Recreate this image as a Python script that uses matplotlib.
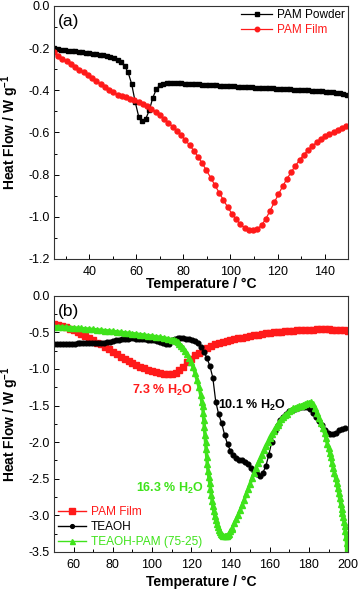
import numpy as np
import matplotlib
matplotlib.use("Agg")
import matplotlib.pyplot as plt
from matplotlib.ticker import MultipleLocator, FormatStrFormatter

plt.rcParams['font.family'] = ['Liberation Sans', 'DejaVu Sans']
plt.rcParams['mathtext.fontset'] = 'custom'
plt.rcParams['mathtext.rm'] = 'Liberation Sans'
plt.rcParams['mathtext.bf'] = 'Liberation Sans:bold'

RED = '#ff1a1a'
GREEN = '#3fe31b'

# ---- panel (a): PAM powder / PAM film, 25-150 C ----
powder_start, powder_step = 25, 1.5
powder_flow = [
    -0.200, -0.204, -0.207, -0.210, -0.212, -0.214, -0.216, -0.218, -0.220, -0.222,
    -0.224, -0.226, -0.228, -0.231, -0.234, -0.237, -0.241, -0.247, -0.256, -0.268,
    -0.285, -0.315, -0.370, -0.455, -0.525, -0.548, -0.535, -0.495, -0.435, -0.395,
    -0.375, -0.368, -0.366, -0.366, -0.366, -0.367, -0.367, -0.368, -0.369, -0.370,
    -0.371, -0.372, -0.373, -0.374, -0.375, -0.376, -0.377, -0.378, -0.379, -0.380,
    -0.381, -0.382, -0.383, -0.384, -0.385, -0.385, -0.386, -0.387, -0.388, -0.389,
    -0.389, -0.390, -0.391, -0.392, -0.393, -0.394, -0.395, -0.396, -0.397, -0.398,
    -0.399, -0.400, -0.401, -0.402, -0.403, -0.404, -0.405, -0.406, -0.408, -0.410,
    -0.412, -0.414, -0.417, -0.420,
]

film_start, film_step = 25, 1.8
film_flow = [
    -0.220, -0.236, -0.250, -0.262, -0.276, -0.290, -0.302, -0.315, -0.328, -0.342,
    -0.356, -0.370, -0.384, -0.398, -0.410, -0.420, -0.427, -0.433, -0.439, -0.446,
    -0.455, -0.465, -0.476, -0.488, -0.502, -0.518, -0.535, -0.553, -0.572, -0.592,
    -0.613, -0.636, -0.660, -0.686, -0.715, -0.746, -0.780, -0.815, -0.850, -0.886,
    -0.920, -0.954, -0.985, -1.012, -1.035, -1.052, -1.062, -1.064, -1.058, -1.040,
    -1.010, -0.972, -0.932, -0.893, -0.855, -0.820, -0.788, -0.758, -0.730, -0.705,
    -0.683, -0.664, -0.647, -0.632, -0.619, -0.607, -0.596, -0.586, -0.577, -0.568,
]

# ---- panel (b): PAM film / TEAOH / TEAOH-PAM, 50-200 C ----
film_b_start, film_b_step = 50, 2
film_b_flow = [
    -0.380, -0.395, -0.410, -0.430, -0.450, -0.470, -0.500, -0.525, -0.550, -0.580,
    -0.610, -0.640, -0.665, -0.695, -0.730, -0.765, -0.800, -0.835, -0.865, -0.895,
    -0.920, -0.945, -0.970, -0.990, -1.010, -1.030, -1.045, -1.060, -1.070, -1.075,
    -1.070, -1.055, -1.020, -0.970, -0.910, -0.860, -0.815, -0.775, -0.740, -0.710,
    -0.685, -0.665, -0.645, -0.630, -0.615, -0.600, -0.590, -0.580, -0.570, -0.560,
    -0.550, -0.540, -0.530, -0.520, -0.515, -0.510, -0.500, -0.495, -0.490, -0.485,
    -0.480, -0.475, -0.470, -0.468, -0.465, -0.463, -0.461, -0.460, -0.460, -0.460,
    -0.460, -0.462, -0.465, -0.468, -0.472, -0.475,
]

teaoh_start, teaoh_step = 50, 1.5
teaoh_flow = [
    -0.660, -0.660, -0.665, -0.665, -0.660, -0.660, -0.660, -0.655, -0.650, -0.648,
    -0.645, -0.645, -0.645, -0.645, -0.645, -0.645, -0.645, -0.640, -0.635, -0.625,
    -0.615, -0.605, -0.600, -0.595, -0.590, -0.585, -0.580, -0.580, -0.585, -0.590,
    -0.590, -0.595, -0.600, -0.605, -0.610, -0.620, -0.630, -0.645, -0.660, -0.665,
    -0.600, -0.585, -0.580, -0.580, -0.580, -0.585, -0.590, -0.600, -0.620, -0.650,
    -0.700, -0.770, -0.850, -0.960, -1.120, -1.450, -1.620, -1.740, -1.900, -2.030,
    -2.120, -2.180, -2.220, -2.240, -2.250, -2.270, -2.300, -2.350, -2.400, -2.440,
    -2.460, -2.420, -2.330, -2.180, -2.000, -1.850, -1.760, -1.700, -1.650, -1.610,
    -1.570, -1.555, -1.545, -1.535, -1.525, -1.520, -1.525, -1.550, -1.600, -1.650,
    -1.710, -1.770, -1.830, -1.870, -1.895, -1.890, -1.870, -1.840, -1.820, -1.810,
]

mix_temp = [
    50, 52, 54, 56, 58, 60, 62, 64, 66, 68, 70, 72, 74, 76, 78, 80, 82, 84, 86, 88,
    90, 92, 94, 96, 98, 100, 102, 104, 106, 108, 110, 111, 112, 113, 114, 115, 116,
    117, 118, 119, 120, 121, 122, 123, 124, 124.8, 125.4,
    125.8, 126.1, 126.4, 126.7, 127.0, 127.3, 127.6, 127.9, 128.2, 128.6, 129.0,
    129.4, 129.8, 130.2, 130.6, 131.0, 131.5, 132.0, 132.5, 133.0, 133.5, 134.0,
    134.6, 135.2, 135.8, 136.4, 137.0, 137.6, 138.2, 138.8, 139.4, 140.0, 140.6,
    141, 142, 143, 144, 145, 146, 147, 148, 149, 150, 151, 152, 153, 154, 155, 156,
    157, 158, 159, 160, 161, 162, 163, 164, 165, 166, 167, 168, 169, 170, 171, 172,
    173, 174, 175, 176, 177, 178, 179, 180, 181,
    182, 183, 184, 185, 186, 187, 188, 188.7, 189.4, 190.0, 190.6, 191.2, 191.8,
    192.4, 193.0, 193.6, 194.2, 194.7, 195.2, 195.7, 196.2, 196.7, 197.1, 197.5,
    197.9, 198.3, 198.6, 198.9, 199.2, 199.2,
]
mix_flow = [
    -0.420, -0.423, -0.426, -0.430, -0.434, -0.438, -0.442, -0.446, -0.450, -0.455,
    -0.460, -0.465, -0.470, -0.475, -0.480, -0.486, -0.492, -0.498, -0.504, -0.510,
    -0.516, -0.523, -0.530, -0.537, -0.544, -0.551, -0.558, -0.566, -0.575, -0.585,
    -0.598, -0.608, -0.620, -0.636, -0.656, -0.682, -0.715, -0.755, -0.800, -0.850,
    -0.910, -0.980, -1.060, -1.150, -1.250, -1.350, -1.450,
    -1.500, -1.600, -1.700, -1.800, -1.900, -2.000, -2.100, -2.200, -2.300, -2.400,
    -2.480, -2.560, -2.640, -2.720, -2.800, -2.870, -2.940, -3.010, -3.070, -3.120,
    -3.160, -3.200, -3.230, -3.250, -3.270, -3.280, -3.285, -3.285, -3.280, -3.270,
    -3.250, -3.220, -3.190,
    -3.170, -3.110, -3.050, -2.990, -2.930, -2.860, -2.790, -2.710, -2.640, -2.570,
    -2.490, -2.420, -2.350, -2.290, -2.230, -2.170, -2.110, -2.050, -2.000, -1.940,
    -1.890, -1.850, -1.800, -1.760, -1.720, -1.690, -1.660, -1.630, -1.610, -1.580,
    -1.560, -1.540, -1.530, -1.520, -1.510, -1.500, -1.490, -1.480, -1.470, -1.460,
    -1.455,
    -1.480, -1.530, -1.600, -1.670, -1.740, -1.810, -1.880, -1.950, -2.020, -2.080,
    -2.150, -2.210, -2.280, -2.350, -2.420, -2.490, -2.560, -2.630, -2.700, -2.770,
    -2.840, -2.910, -2.970, -3.030, -3.090, -3.150, -3.220, -3.300, -3.380, -3.600,
]


def grid(start, step, values):
    return start + step * np.arange(len(values))


def style_axes(ax):
    ax.tick_params(which='both', direction='in', labelsize=9, width=0.7)
    ax.tick_params(which='major', length=3.5, pad=3)
    ax.tick_params(axis='x', which='major', pad=5)
    ax.tick_params(which='minor', length=2)
    for s in ax.spines.values():
        s.set_linewidth(0.8)
        s.set_color('#333333')


def color_legend(leg):
    for txt, line in zip(leg.get_texts(), leg.get_lines()):
        txt.set_color(line.get_color())


fig = plt.figure(figsize=(3.6, 5.94), dpi=100)

# panel (a)
ax1 = fig.add_axes([0.15, 0.564, 0.817, 0.426])
ax1.plot(grid(powder_start, powder_step, powder_flow), powder_flow, '-s', color='black',
         lw=0.9, ms=3, label='PAM Powder')
ax1.plot(grid(film_start, film_step, film_flow), film_flow, '-o', color=RED,
         lw=0.9, ms=3.6, label='PAM Film')
ax1.set_xlim(25, 150)
ax1.set_ylim(-1.2, 0.0)
ax1.set_xticks([40, 60, 80, 100, 120, 140])
ax1.xaxis.set_minor_locator(MultipleLocator(10))
ax1.yaxis.set_major_locator(MultipleLocator(0.2))
ax1.yaxis.set_minor_locator(MultipleLocator(0.1))
ax1.yaxis.set_major_formatter(FormatStrFormatter('%.1f'))
style_axes(ax1)
ax1.set_xlabel('Temperature / °C', fontsize=10, fontweight='bold', labelpad=-1)
ax1.set_ylabel(r'Heat Flow / W g$^{\mathbf{-1}}$', fontsize=10, fontweight='bold')
ax1.yaxis.set_label_coords(-0.112, 0.5)
ax1.text(0.012, 0.94, '(a)', transform=ax1.transAxes, fontsize=12.5, va='center')
leg1 = ax1.legend(loc='upper right', frameon=False, fontsize=8.5, handlelength=2.6,
                  borderaxespad=0.1, labelspacing=0.25, markerscale=0.9,
                  handletextpad=0.4, borderpad=0.2)
color_legend(leg1)

# panel (b)
ax2 = fig.add_axes([0.15, 0.071, 0.817, 0.431])
ax2.plot(grid(film_b_start, film_b_step, film_b_flow), film_b_flow, '-s', color=RED,
         lw=2.5, ms=5, label='PAM Film')
ax2.plot(grid(teaoh_start, teaoh_step, teaoh_flow), teaoh_flow, '-o', color='black',
         lw=0.9, ms=3.4, label='TEAOH')
ax2.plot(mix_temp, mix_flow, '-^', color=GREEN, lw=2.5, ms=4.5,
         label='TEAOH-PAM (75-25)')
ax2.set_xlim(50, 200)
ax2.set_ylim(-3.5, 0.0)
ax2.set_xticks([60, 80, 100, 120, 140, 160, 180, 200])
ax2.xaxis.set_minor_locator(MultipleLocator(10))
ax2.yaxis.set_major_locator(MultipleLocator(0.5))
ax2.yaxis.set_minor_locator(MultipleLocator(0.25))
ax2.yaxis.set_major_formatter(FormatStrFormatter('%.1f'))
style_axes(ax2)
ax2.set_xlabel('Temperature / °C', fontsize=10, fontweight='bold', labelpad=3)
ax2.set_ylabel(r'Heat Flow / W g$^{\mathbf{-1}}$', fontsize=10, fontweight='bold')
ax2.yaxis.set_label_coords(-0.112, 0.5)
ax2.text(0.012, 0.94, '(b)', transform=ax2.transAxes, fontsize=12.5, va='center')

ax2.text(105.5, -1.29, r'7.3 % H$_\mathbf{2}$O', color=RED, fontsize=9,
         fontweight='bold', ha='center', va='center')
ax2.text(151, -1.5, r'10.1 % H$_\mathbf{2}$O', color='black', fontsize=9,
         fontweight='bold', ha='center', va='center')
ax2.text(109, -2.63, r'16.3 % H$_\mathbf{2}$O', color=GREEN, fontsize=9,
         fontweight='bold', ha='center', va='center')

leg2 = ax2.legend(loc='lower left', frameon=False, fontsize=8.6, handlelength=2.4,
                  borderaxespad=0.1, labelspacing=0.25, handletextpad=0.4,
                  markerscale=0.8, borderpad=0.2)
color_legend(leg2)
for line in leg2.get_lines():
    line.set_linewidth(1.0)

fig.savefig('out.png', dpi=100)
